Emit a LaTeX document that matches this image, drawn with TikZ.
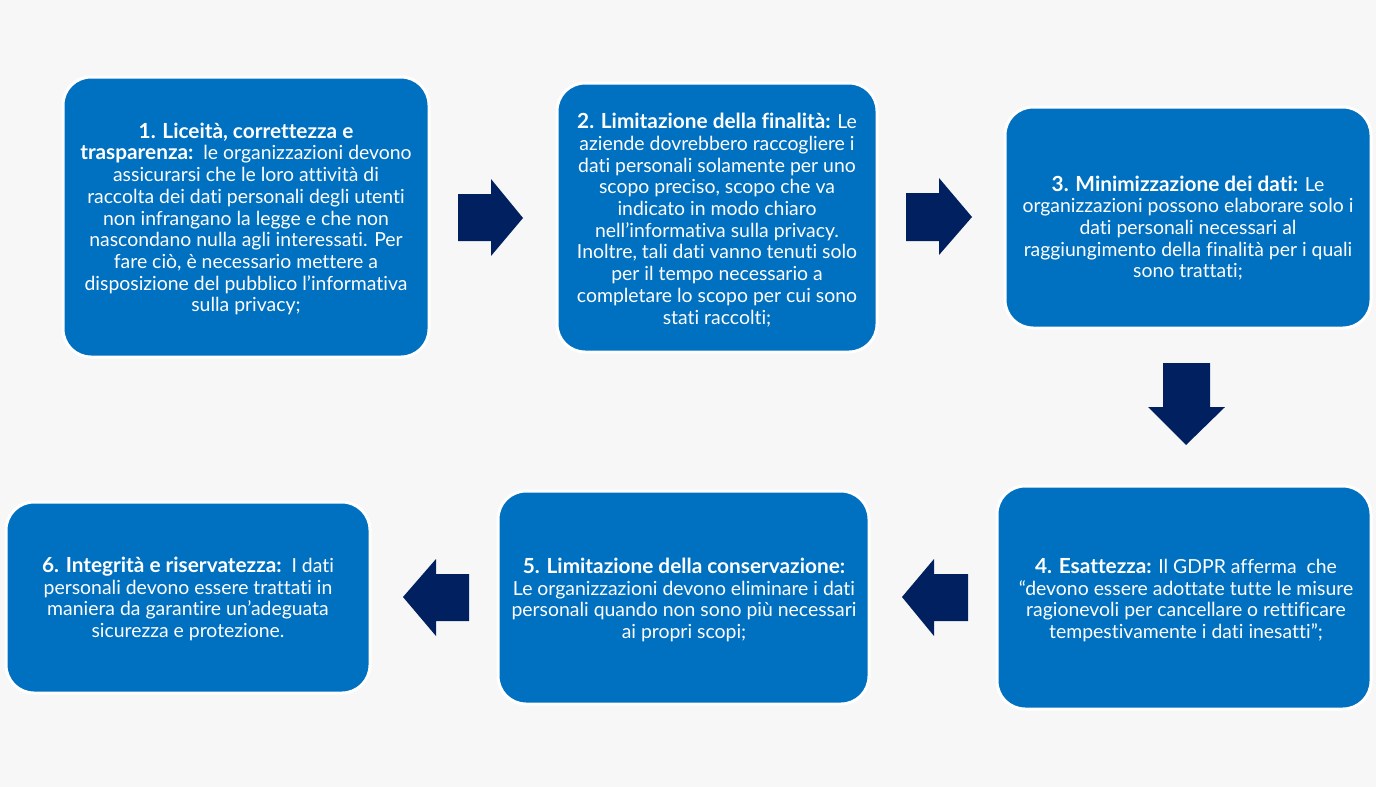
\documentclass[tikz,border=0pt]{standalone}
\usepackage{fontspec}
\setmainfont{Lato}[Ligatures=NoCommon]
\usetikzlibrary{fit}
\definecolor{bg}{HTML}{F7F7F7}
\definecolor{boxblue}{HTML}{0070C0}
\definecolor{navy}{HTML}{002060}
\newcommand{\hdtxt}[1]{{\fontsize{10.4}{10.85}\selectfont\bfseries #1}}
\tikzset{
  stepbox/.style={draw=white, line width=1.5pt, fill=boxblue, rounded corners=14pt, inner sep=0pt},
  steptext/.style={text=white, align=center, font=\fontsize{9.7}{10.85}\selectfont, inner sep=0pt},
  blockarrow/.style={fill=navy, draw=none}
}
\begin{document}
\begin{tikzpicture}[x=0.5pt, y=-0.5pt]
\fill[bg] (0,0) rectangle (1376,787);
\useasboundingbox (0,0) rectangle (1376,787);

% boxes
\node[stepbox, fit={(63,77) (429,357)}] (b1) {};
\node[stepbox, fit={(557,83) (877,352)}] (b2) {};
\node[stepbox, fit={(1005,107) (1371,328)}] (b3) {};
\node[stepbox, fit={(997,486) (1371,709)}] (b4) {};
\node[stepbox, fit={(498,491) (869,704)}] (b5) {};
\node[stepbox, fit={(6,502) (370,693)}] (b6) {};

% texts
\node[steptext] (t1) at (246,219) {\hdtxt{1. Liceità, correttezza e}\\
\hdtxt{trasparenza:}\ \ le organizzazioni devono\\
assicurarsi che le loro attività di\\
raccolta dei dati personali degli utenti\\
non infrangano la legge e che non\\
nascondano nulla agli interessati. Per\\
fare ciò, è necessario mettere a\\
disposizione del pubblico l’informativa\\
sulla privacy;};

\node[steptext] (t2) at (717,220) {\hdtxt{2. Limitazione della finalità:} Le\\
aziende dovrebbero raccogliere i\\
dati personali solamente per uno\\
scopo preciso, scopo che va\\
indicato in modo chiaro\\
nell’informativa sulla privacy.\\
Inoltre, tali dati vanno tenuti solo\\
per il tempo necessario a\\
completare lo scopo per cui sono\\
stati raccolti;};

\node[steptext] (t3) at (1188,228) {\hdtxt{3. Minimizzazione dei dati:} Le\\
organizzazioni possono elaborare solo i\\
dati personali necessari al\\
raggiungimento della finalità per i quali\\
sono trattati;};

\node[steptext] (t4) at (1186,600) {\hdtxt{4. Esattezza:} Il GDPR afferma\ \ che\\
“devono essere adottate tutte le misure\\
ragionevoli per cancellare o rettificare\\
tempestivamente i dati inesatti”;};

\node[steptext] (t5) at (684,600) {\hdtxt{5. Limitazione della conservazione:}\\
Le organizzazioni devono eliminare i dati\\
personali quando non sono più necessari\\
ai propri scopi;};

\node[steptext] (t6) at (188,599) {\hdtxt{6. Integrità e riservatezza:}\ \ I dati\\
personali devono essere trattati in\\
maniera da garantire un’adeguata\\
sicurezza e protezione.};

% block arrows
\fill[blockarrow] (458,194) -- (491,194) -- (491,179) -- (523,218) -- (491,256) -- (491,241) -- (458,241) -- cycle;
\fill[blockarrow] (906,193) -- (939,193) -- (939,178) -- (972,217) -- (939,255) -- (939,241) -- (906,241) -- cycle;
\fill[blockarrow] (1163,363) -- (1210,363) -- (1210,407) -- (1225,407) -- (1186,445) -- (1148,407) -- (1163,407) -- cycle;
\fill[blockarrow] (968,574) -- (934,574) -- (934,559) -- (902,597) -- (934,636) -- (934,621) -- (968,621) -- cycle;
\fill[blockarrow] (469,574) -- (436,574) -- (436,559) -- (403,597) -- (436,636) -- (436,621) -- (469,621) -- cycle;
\end{tikzpicture}
\end{document}
